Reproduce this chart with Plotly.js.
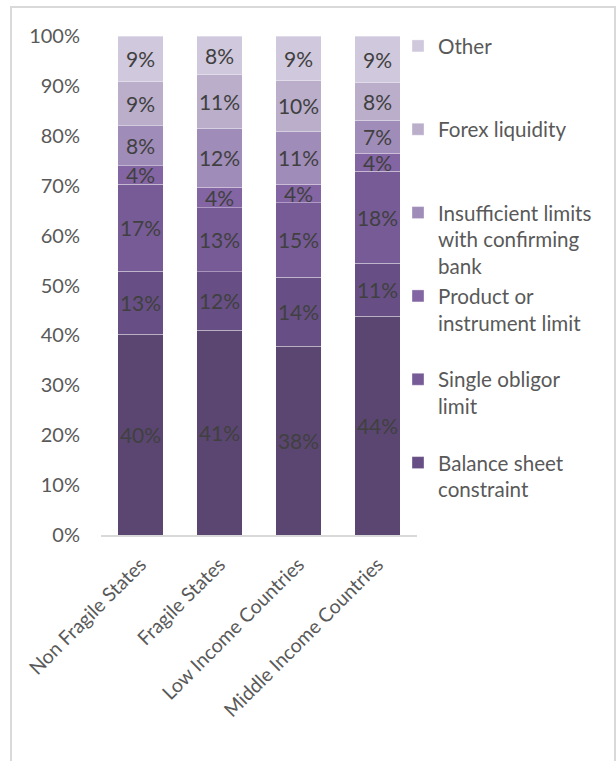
<!DOCTYPE html>
<html>
<head>
<meta charset="utf-8">
<script src="https://cdn.plot.ly/plotly-3.0.1.min.js"></script>
<style>
  html, body { margin: 0; padding: 0; background: #ffffff; }
  body { width: 616px; height: 761px; overflow: hidden; position: relative; }
  #frame { position: absolute; left: 10px; top: 6px; width: 606px; height: 820px;
           border: 2px solid #d9d9d9; border-bottom: none; box-sizing: border-box; }
  #chart { position: absolute; left: 0; top: 0; width: 616px; height: 761px; }
</style>
</head>
<body>
<div id="frame"></div>
<div id="chart"></div>
<script>
// Categories
const categories = ["Non Fragile States", "Fragile States", "Low Income Countries", "Middle Income Countries"];

// Series (bottom to top), values in percent
const unnamedBase      = [40.2, 41.0, 37.8, 43.8];
const balanceSheet     = [12.7, 11.8, 13.9, 10.7];
const singleObligor    = [17.4, 12.8, 14.9, 18.4];
const productLimit     = [3.7, 4.1, 3.7, 3.6];
const insufficientLim  = [8.0, 11.8, 10.6, 6.6];
const forexLiquidity   = [8.8, 10.7, 10.2, 7.6];
const otherReasons     = [9.2, 7.8, 8.9, 9.3];

const seriesNames = [
  "",
  "Balance sheet<br>constraint<br>\u00a0",
  "Single obligor<br>limit<br>\u00a0",
  "Product or<br>instrument limit<br>\u00a0",
  "Insufficient limits<br>with confirming<br>bank",
  "Forex liquidity<br>\u00a0<br>\u00a0",
  "Other<br>\u00a0<br>\u00a0"
];
const seriesValues = [unnamedBase, balanceSheet, singleObligor, productLimit, insufficientLim, forexLiquidity, otherReasons];
const seriesColors = ["#5b4672", "#674f85", "#775b97", "#8465a4", "#a08cb8", "#baaecb", "#d0c8dc"];
const inLegend = [false, true, true, true, true, true, true];

const yTickVals = [0, 10, 20, 30, 40, 50, 60, 70, 80, 90, 100];
const yTickText = ["0%", "10%", "20%", "30%", "40%", "50%", "60%", "70%", "80%", "90%", "100%"];

const FONT = "Lato, 'Open Sans', sans-serif";

const traces = seriesValues.map((vals, i) => ({
  type: "bar",
  name: seriesNames[i],
  x: categories,
  y: vals,
  marker: { color: seriesColors[i], line: { width: 1, color: "rgba(255,255,255,0.35)" } },
  text: vals.map(v => Math.round(v) + "%"),
  textposition: "inside",
  insidetextanchor: "middle",
  textangle: 0,
  constraintext: "none",
  textfont: { family: FONT, size: 21, color: "#404040" },
  showlegend: inLegend[i],
  hoverinfo: "skip",
  cliponaxis: false
}));

const layout = {
  width: 616,
  height: 761,
  margin: { l: 101, r: 199, t: 36, b: 226, autoexpand: false },
  paper_bgcolor: "rgba(0,0,0,0)",
  plot_bgcolor: "rgba(0,0,0,0)",
  barmode: "stack",
  bargap: 0.43,
  font: { family: FONT, size: 20, color: "#595959" },
  uniformtext: { mode: "show", minsize: 21 },
  xaxis: {
    type: "category",
    tickangle: -45,
    showline: true,
    linecolor: "#d9d9d9",
    linewidth: 1.5,
    ticks: "",
    showgrid: false,
    zeroline: false,
    automargin: false,
    ticklabelstandoff: 9,
    tickfont: { family: FONT, size: 19.5, color: "#595959" }
  },
  yaxis: {
    range: [0, 100.001],
    tickvals: yTickVals,
    ticktext: yTickText,
    showgrid: false,
    zeroline: false,
    showline: false,
    ticks: "",
    automargin: false,
    ticklabelstandoff: 20,
    tickfont: { family: FONT, size: 20, color: "#595959" }
  },
  legend: {
    xref: "container",
    yref: "container",
    x: 398 / 616,
    y: 1 - 26 / 761,
    xanchor: "left",
    yanchor: "top",
    traceorder: "reversed",
    valign: "top",
    itemwidth: 30,
    tracegroupgap: 0,
    maxheight: 720,
    font: { family: FONT, size: 20.6, color: "#595959" },
    bgcolor: "rgba(0,0,0,0)"
  },
  showlegend: true
};

Plotly.newPlot("chart", traces, layout, { staticPlot: true, displayModeBar: false });
</script>
</body>
</html>
